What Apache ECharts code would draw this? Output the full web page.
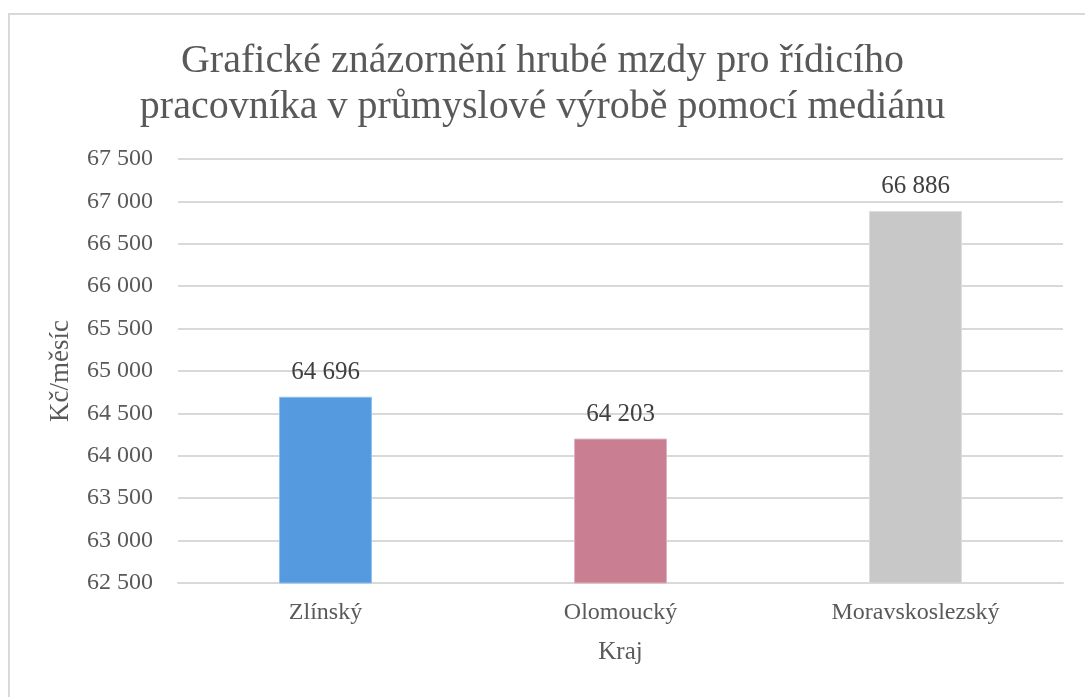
<!DOCTYPE html>
<html>
<head>
<meta charset="utf-8">
<script src="https://cdn.jsdelivr.net/npm/echarts@6/dist/echarts.min.js"></script>
<style>
  html, body { margin: 0; padding: 0; background: #fff; }
  #chart { width: 1085px; height: 697px; }
</style>
</head>
<body>
<div id="chart"></div>
<script>
const categories = ['Zlínský', 'Olomoucký', 'Moravskoslezský']
const values = [64696, 64203, 66886]
const barColors = ['#559ADF', '#C97E92', '#C8C8C8']
const borderColors = ['#8CC0EE', '#E0B0BD', '#DCDCDC']

const serif = '"Liberation Serif", "DejaVu Serif", serif'

// thousands with a space, as in the Czech original
const fmt = v => String(v).replace(/\B(?=(\d{3})+(?!\d))/g, ' ')

const chart = echarts.init(document.getElementById('chart'), null, { renderer: 'canvas' })

chart.setOption({
  animation: false,
  backgroundColor: '#fff',
  graphic: [{
    type: 'rect',
    shape: { x: 9, y: 14, width: 1100, height: 720 },
    style: { fill: 'none', stroke: '#D9D9D9', lineWidth: 2 },
    silent: true
  }],
  title: {
    text: 'Grafické znázornění hrubé mzdy pro řídicího\npracovníka v průmyslové výrobě pomocí mediánu',
    left: 'center',
    top: 33,
    textStyle: {
      fontFamily: serif,
      fontSize: 40,
      fontWeight: 'normal',
      color: '#595959',
      lineHeight: 46
    }
  },
  grid: { left: 178, right: 22, top: 159, bottom: 114 },
  xAxis: {
    type: 'category',
    data: categories,
    name: 'Kraj',
    nameLocation: 'middle',
    nameGap: 57,
    nameTextStyle: { fontFamily: serif, fontSize: 25, color: '#595959' },
    axisLine: { lineStyle: { color: '#D9D9D9', width: 2 } },
    axisTick: { show: false },
    axisLabel: { fontFamily: serif, fontSize: 24, color: '#595959', margin: 18 }
  },
  yAxis: {
    type: 'value',
    min: 62500,
    max: 67500,
    interval: 500,
    name: 'Kč/měsíc',
    nameLocation: 'middle',
    nameGap: 104,
    nameTextStyle: { fontFamily: serif, fontSize: 27, color: '#595959' },
    axisLine: { show: false },
    axisTick: { show: false },
    axisLabel: {
      fontFamily: serif,
      fontSize: 24,
      color: '#595959',
      margin: 25,
      formatter: fmt
    },
    splitLine: { lineStyle: { color: '#D9D9D9', width: 2 } }
  },
  series: [{
    type: 'bar',
    barWidth: '31.5%',
    data: values.map((v, i) => ({
      value: v,
      itemStyle: { color: barColors[i], borderColor: borderColors[i], borderWidth: 1 }
    })),
    label: {
      show: true,
      position: 'top',
      distance: 12,
      fontFamily: serif,
      fontSize: 25,
      color: '#404040',
      formatter: p => fmt(p.value)
    }
  }]
})
</script>
</body>
</html>
